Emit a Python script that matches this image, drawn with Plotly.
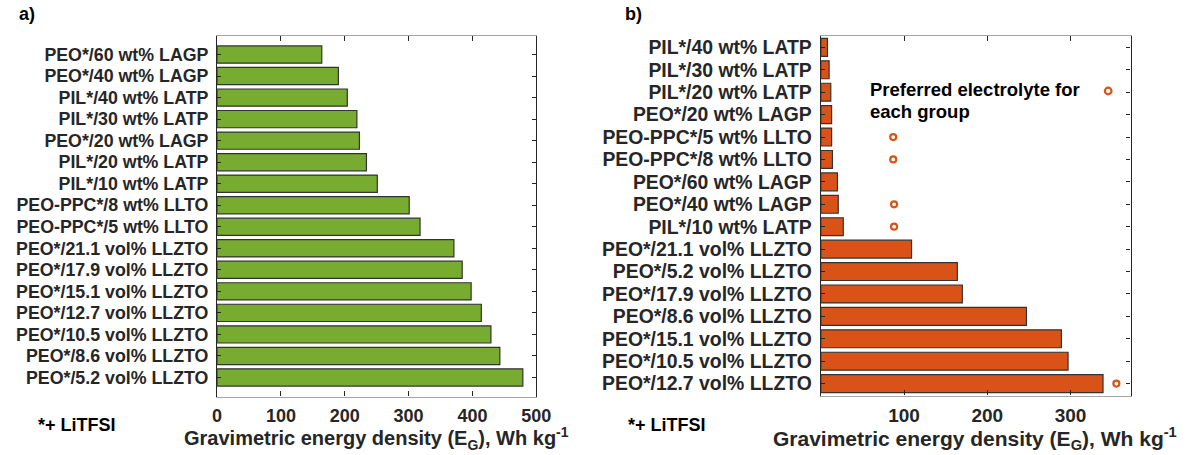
import plotly.graph_objects as go

# ---------------- data ----------------
cats_a = ["PEO*/60 wt% LAGP", "PEO*/40 wt% LAGP", "PIL*/40 wt% LATP", "PIL*/30 wt% LATP",
          "PEO*/20 wt% LAGP", "PIL*/20 wt% LATP", "PIL*/10 wt% LATP", "PEO-PPC*/8 wt% LLTO",
          "PEO-PPC*/5 wt% LLTO", "PEO*/21.1 vol% LLZTO", "PEO*/17.9 vol% LLZTO",
          "PEO*/15.1 vol% LLZTO", "PEO*/12.7 vol% LLZTO", "PEO*/10.5 vol% LLZTO",
          "PEO*/8.6 vol% LLZTO", "PEO*/5.2 vol% LLZTO"]
vals_a = [164, 190, 204, 219, 223, 234, 251, 301, 318, 371, 384, 398, 414, 429, 443, 479]

cats_b = ["PIL*/40 wt% LATP", "PIL*/30 wt% LATP", "PIL*/20 wt% LATP", "PEO*/20 wt% LAGP",
          "PEO-PPC*/5 wt% LLTO", "PEO-PPC*/8 wt% LLTO", "PEO*/60 wt% LAGP", "PEO*/40 wt% LAGP",
          "PIL*/10 wt% LATP", "PEO*/21.1 vol% LLZTO", "PEO*/5.2 vol% LLZTO",
          "PEO*/17.9 vol% LLZTO", "PEO*/8.6 vol% LLZTO", "PEO*/15.1 vol% LLZTO",
          "PEO*/10.5 vol% LLZTO", "PEO*/12.7 vol% LLZTO"]
vals_b = [8, 10, 12, 13, 13, 14, 20, 21, 27, 109, 164, 170, 247, 289, 297, 339]

pref_cats = ["PEO-PPC*/5 wt% LLTO", "PEO-PPC*/8 wt% LLTO", "PEO*/40 wt% LAGP",
             "PIL*/10 wt% LATP", "PEO*/12.7 vol% LLZTO"]
pref_vals = [87, 87, 88, 88, 355]

ticks_a = [0, 100, 200, 300, 400, 500]
ticks_b = [100, 200, 300]

xtitle = "Gravimetric energy density (E<sub>G</sub>), Wh kg<sup>-1</sup>"

# ---------------- style ----------------
FONT = "Liberation Sans, Arial, sans-serif"
DARK = "#262626"
GREEN = "#77AC30"
ORANGE = "#D95319"
W, H = 1193, 455

def px_x(p):
    return p / W

def px_y(p):
    return 1 - p / H

fig = go.Figure()

fig.add_trace(go.Bar(x=vals_a, y=cats_a, orientation="h", xaxis="x", yaxis="y",
                     marker=dict(color=GREEN, line=dict(color="#333333", width=1.2)),
                     showlegend=False))
fig.add_trace(go.Bar(x=vals_b, y=cats_b, orientation="h", xaxis="x2", yaxis="y2",
                     marker=dict(color=ORANGE, line=dict(color="#333333", width=1.2)),
                     showlegend=False))
fig.add_trace(go.Scatter(x=pref_vals, y=pref_cats, mode="markers", xaxis="x2", yaxis="y2",
                         marker=dict(symbol="circle-open", size=6, color=ORANGE,
                                     line=dict(width=2.2, color=ORANGE)),
                         showlegend=False))

def tf(size):
    return dict(family=FONT, size=size, color=DARK, weight="bold")

common_x = dict(showgrid=False, zeroline=False, showline=True, linecolor="#a6a6a6",
                linewidth=1.2, mirror="allticks", ticks="inside", ticklen=5,
                tickcolor=DARK, tickwidth=1, ticklabelstandoff=3)
common_y = dict(showgrid=False, zeroline=False, showline=True, linecolor=DARK,
                linewidth=1.2, mirror="allticks", ticks="inside", ticklen=4,
                tickcolor=DARK, tickwidth=1, type="category", tickmode="array",
                ticklabelstandoff=4)

fig.update_layout(
    width=W, height=H,
    margin=dict(l=0, r=0, t=0, b=0),
    paper_bgcolor="white", plot_bgcolor="white",
    bargap=0.2,
    xaxis=dict(domain=[px_x(215.7), px_x(540.3)], range=[0, 500], tickvals=ticks_a,
               anchor="y", tickfont=tf(18), **common_x),
    yaxis=dict(domain=[px_y(396.5), px_y(35.5)], anchor="x",
               categoryorder="array", categoryarray=cats_a,
               tickvals=cats_a, ticktext=cats_a, tickfont=tf(17.8),
               range=[15.885, -0.885], **common_y),
    xaxis2=dict(domain=[px_x(829.7), px_x(1144.7)], range=[0, 372], tickvals=ticks_b,
                anchor="y2", tickfont=tf(19), **common_x),
    yaxis2=dict(domain=[px_y(395.5), px_y(35.5)], anchor="x2",
                categoryorder="array", categoryarray=cats_b,
                tickvals=cats_b, ticktext=cats_b, tickfont=tf(19.4),
                range=[15.53, -0.53], **common_y),
)

annots = []
def txt(x, y, s, size=18, xanchor="center", color=DARK):
    annots.append(dict(text=s, x=px_x(x), y=px_y(y), xref="paper", yref="paper",
                       xanchor=xanchor, yanchor="middle", showarrow=False,
                       font=dict(family=FONT, size=size, color=color, weight="bold")))

txt(12, 14, "a)", size=18, xanchor="left", color="#000000")
txt(629, 14, "b)", size=18, xanchor="left", color="#000000")
txt(32, 425, "*+ LiTFSI", size=18, xanchor="left", color="#000000")
txt(632, 425, "*+ LiTFSI", size=18, xanchor="left", color="#000000")
txt(378, 438, xtitle, size=20)
txt(987, 438, xtitle, size=21)
txt(878, 90, "Preferred electrolyte for", size=18.5, xanchor="left", color="#000000")
txt(878, 111, "each group", size=18.5, xanchor="left", color="#000000")
fig.update_layout(annotations=annots)

# legend key marker (open circle)
fig.add_shape(type="circle", xref="paper", yref="paper",
              xsizemode="pixel", ysizemode="pixel",
              xanchor=px_x(1122), yanchor=px_y(91),
              x0=-3.3, x1=3.3, y0=-3.3, y1=3.3,
              line=dict(color=ORANGE, width=2.2), fillcolor="rgba(0,0,0,0)")

fig.write_html("out.html")
